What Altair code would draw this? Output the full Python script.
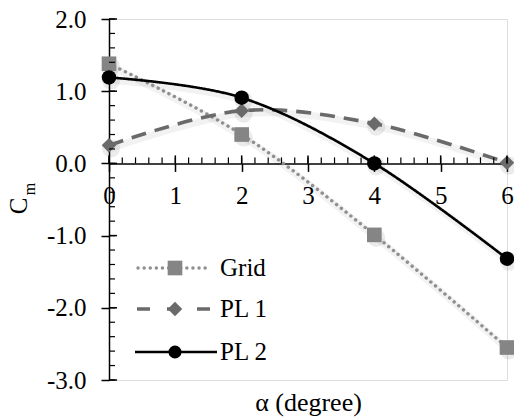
import altair as alt
import pandas as pd

# Pitching moment coefficient against angle of attack
alpha = [0, 2, 4, 6]
grid_cm = [1.38, 0.40, -0.99, -2.55]
pl1_cm = [0.25, 0.73, 0.55, 0.01]
pl2_cm = [1.19, 0.91, 0.0, -1.32]

series = ["Grid", "PL 1", "PL 2"]
colors = ["#858585", "#6a6a6a", "#000000"]
shapes = ["square", "diamond", "circle"]
sizes = [215, 210, 170]

y_ticks = [-3, -2, -1, 0, 1, 2]
x_ticks = [0, 1, 2, 3, 4, 5, 6]
y_minor = [round(-3 + 0.2 * i, 1) for i in range(26)]
x_minor = [round(0.2 * i, 1) for i in range(31)]

W, H = 398, 361
Y_DOM = [-3, 2]
X_DOM = [0, 6]
ZERO_Y = H * (Y_DOM[1] - 0) / (Y_DOM[1] - Y_DOM[0])  # pixel row of Cm = 0

FONT = "Liberation Serif"
FS = 25

rows = []
for name, vals in zip(series, [grid_cm, pl1_cm, pl2_cm]):
    for a, v in zip(alpha, vals):
        rows.append({"alpha": a, "cm": v, "series": name})
df = pd.DataFrame(rows)

xs = alt.Scale(domain=X_DOM, nice=False, zero=False)
ys = alt.Scale(domain=Y_DOM, nice=False, zero=False)

# axes carry labels, domain lines and the outward halves of the major ticks
x_main = alt.Axis(
    values=x_ticks, orient="bottom", offset=-(H - ZERO_Y), tickSize=8, tickWidth=1.5,
    tickColor="black", domainColor="black", domainWidth=1.5, grid=False,
    labelFont=FONT, labelFontSize=FS, labelColor="black", labelPadding=12,
    labelFlush=False, labelOverlap=False,
    title="α (degree)", titleFont=FONT, titleFontSize=26, titleFontWeight="normal",
    titleColor="black", titleBaseline="middle", titleY=H - ZERO_Y + 22, titleX=W / 2,
    titleAlign="center",
)
y_main = alt.Axis(
    values=y_ticks, orient="left", tickSize=8, tickWidth=1.5, tickColor="black",
    domainColor="black", domainWidth=1.5, grid=False,
    labelFont=FONT, labelFontSize=FS, labelColor="black", labelPadding=15,
    labelExpr="replace(format(datum.value, '.1f'), '\u2212', '-')",
    labelFlush=False, labelOverlap=False, title=None,
)


def X(field):
    return alt.X(field, scale=xs, axis=x_main)


def Y(field):
    return alt.Y(field, scale=ys, axis=y_main)


base = alt.Chart(df)

# soft shadows under the curves and markers
shadow_lines = base.mark_line(
    color="#000000", opacity=0.05, strokeWidth=7, interpolate="cardinal",
    xOffset=2, yOffset=3,
).encode(x=X("alpha:Q"), y=Y("cm:Q"), detail="series:N")
shadow_points = base.mark_point(
    filled=True, color="#000000", opacity=0.08, shape="circle", size=330,
    xOffset=2, yOffset=3,
).encode(x=X("alpha:Q"), y=Y("cm:Q"))


def line_layer(name, color, width, dash, cap):
    return base.transform_filter(alt.datum.series == name).mark_line(
        color=color, strokeWidth=width, strokeDash=dash, strokeCap=cap,
        interpolate="cardinal",
    ).encode(x=X("alpha:Q"), y=Y("cm:Q"))


grid_line = line_layer("Grid", "#8f8f8f", 3.4, [0.1, 6], "round")
pl1_line = line_layer("PL 1", "#6a6a6a", 3.6, [15, 9], "butt")
pl2_line = line_layer("PL 2", "#000000", 2.6, [1, 0], "butt")

points = base.mark_point(filled=True, opacity=1).encode(
    x=X("alpha:Q"),
    y=Y("cm:Q"),
    color=alt.Color("series:N", scale=alt.Scale(domain=series, range=colors), legend=None),
    shape=alt.Shape("series:N", scale=alt.Scale(domain=series, range=shapes), legend=None),
    size=alt.Size("series:N", scale=alt.Scale(domain=series, range=sizes), legend=None),
)

# inward tick halves and minor ticks, placed through the axis scales
xt_major = alt.Chart(pd.DataFrame({"alpha": x_ticks})).mark_rule(color="black", strokeWidth=1.5).encode(
    x=X("alpha:Q"), y=alt.value(ZERO_Y - 8), y2=alt.value(ZERO_Y))
xt_minor = alt.Chart(pd.DataFrame({"alpha": x_minor})).mark_rule(color="black", strokeWidth=1.2).encode(
    x=X("alpha:Q"), y=alt.value(ZERO_Y - 6), y2=alt.value(ZERO_Y))
yt_major = alt.Chart(pd.DataFrame({"cm": y_ticks})).mark_rule(color="black", strokeWidth=1.5).encode(
    y=Y("cm:Q"), x=alt.value(0), x2=alt.value(8))
yt_minor = alt.Chart(pd.DataFrame({"cm": y_minor})).mark_rule(color="black", strokeWidth=1.2).encode(
    y=Y("cm:Q"), x=alt.value(0), x2=alt.value(6))

# legend drawn inside the plot, lower left
one = pd.DataFrame({"k": [0]})
leg_y = [249, 290, 333]
leg_styles = [
    ("#8f8f8f", 3.4, [0.1, 6], "round", 29, 101),
    ("#6a6a6a", 3.6, [13, 17], "butt", 28, 101),
    ("#000000", 2.6, [1, 0], "butt", 26, 108),
]
legend_layers = []
for name, col, shp, sz, ly, (lc, lw, ld, lcap, x1, x2) in zip(
        series, colors, shapes, sizes, leg_y, leg_styles):
    legend_layers.append(
        alt.Chart(one).mark_rule(color=lc, strokeWidth=lw, strokeDash=ld, strokeCap=lcap).encode(
            x=alt.value(x1), x2=alt.value(x2), y=alt.value(ly))
    )
    legend_layers.append(
        alt.Chart(one).mark_point(filled=True, shape=shp, size=sz, color=col, opacity=1).encode(
            x=alt.value(66), y=alt.value(ly))
    )
    legend_layers.append(
        alt.Chart(one).mark_text(text=name, font=FONT, fontSize=FS, color="black",
                                 align="left", baseline="middle").encode(
            x=alt.value(111), y=alt.value(ly))
    )

# y-axis title C with subscript m
title_c = alt.Chart(one).mark_text(text="C", font=FONT, fontSize=FS, angle=270,
                                   align="center", baseline="middle", color="black").encode(
    x=alt.value(-90), y=alt.value(187))
title_m = alt.Chart(one).mark_text(text="m", font=FONT, fontSize=16, angle=270,
                                   align="center", baseline="middle", color="black").encode(
    x=alt.value(-79), y=alt.value(170))

chart = alt.layer(
    shadow_lines, shadow_points, grid_line, pl1_line, pl2_line, points,
    xt_major, xt_minor, yt_major, yt_minor,
    *legend_layers, title_c, title_m
).properties(
    width=W, height=H,
    autosize=alt.AutoSizeParams(type="none"),
    padding={"left": 109, "top": 19, "right": 7, "bottom": 38},
).configure_view(stroke=None).configure(background="white")

chart.save("out.html", embed_options={"renderer": "svg", "actions": False})
